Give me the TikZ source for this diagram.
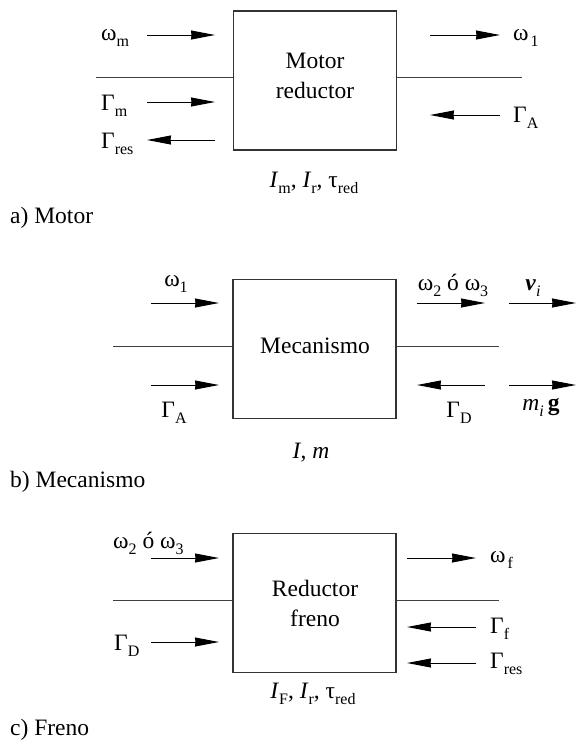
\documentclass[tikz,border=0pt]{standalone}
\usepackage{fontspec}
\setmainfont{Liberation Serif}
\usetikzlibrary{arrows.meta}
\newcommand\sbx[1]{\raisebox{-0.26em}{\fontsize{16}{16}\selectfont #1}}
\begin{document}
\begin{tikzpicture}[x=1pt,y=-1pt,
  every node/.style={inner sep=0pt, font=\fontsize{23.5}{30}\selectfont},
  blk/.style={draw=black!80, line width=1.2pt, minimum width=163pt, minimum height=139pt},
  shaft/.style={line width=1pt, draw=black!75},
  arr/.style={line width=1pt, -{Stealth[length=24pt,width=9pt,inset=0.5pt]}},
  lbl/.style={anchor=base west},
  lblc/.style={anchor=base},
  captxt/.style={anchor=base west, font=\fontsize{23.5}{28}\selectfont}
]
\useasboundingbox (0,0) rectangle (576,740);

% ---------- a) Motor ----------
\node[blk] (A) at (315,80.5) {};
\node[align=center] (At) at (315,76) {Motor\\reductor};
\coordinate (aL) at (96,77);
\coordinate (aR) at (522,77);
\draw[shaft] (aL) -- (aL -| A.west);
\draw[shaft] (A.east |- aR) -- (aR);

\node[lbl] (wm) at (101,40) {ω\sbx{m}};
\coordinate (a1s) at (147,35); \coordinate (a1e) at (215,35);
\draw[arr] (a1s) -- (a1e);
\node[lbl] (Gm) at (101,110) {Γ\sbx{m}};
\coordinate (a2s) at (147,102); \coordinate (a2e) at (215,102);
\draw[arr] (a2s) -- (a2e);
\node[lbl] (Gres) at (101,148) {Γ\sbx{res}};
\coordinate (a3s) at (215,140); \coordinate (a3e) at (147,140);
\draw[arr] (a3s) -- (a3e);

\node[lbl] (w1) at (513,40) {ω\kern2pt\sbx{1}};
\coordinate (a4s) at (430,35); \coordinate (a4e) at (500,35);
\draw[arr] (a4s) -- (a4e);
\node[lbl] (GA) at (513,122) {Γ\sbx{A}};
\coordinate (a5s) at (500,115); \coordinate (a5e) at (430,115);
\draw[arr] (a5s) -- (a5e);

\node[lblc] (Ai) at (314,187) {\textit{I}\sbx{m}, \textit{I}\sbx{r}, τ\sbx{red}};
\node[captxt] (capA) at (10,223) {a) Motor};

% ---------- b) Mecanismo ----------
\node[blk] (B) at (314.5,349) {};
\node[lblc] (Bt) at (315,353) {Mecanismo};
\coordinate (bL) at (113,346);
\coordinate (bR) at (499,346);
\draw[shaft] (bL) -- (bL -| B.west);
\draw[shaft] (B.east |- bR) -- (bR);

\node[lblc] (bw1) at (176,286) {ω\sbx{1}};
\coordinate (b1s) at (151,303); \coordinate (b1e) at (219,303);
\draw[arr] (b1s) -- (b1e);
\node[lblc] (bGA) at (174,417) {Γ\sbx{A}};
\coordinate (b2s) at (151,385); \coordinate (b2e) at (219,385);
\draw[arr] (b2s) -- (b2e);

\node[lblc] (bw23) at (453,290) {ω\sbx{2} ó ω\sbx{3}};
\coordinate (b3s) at (417,303); \coordinate (b3e) at (485,303);
\draw[arr] (b3s) -- (b3e);
\node[lblc] (bv) at (533,290) {\textbf{\textit{v}}\sbx{\textit{i}}};
\coordinate (b4s) at (509,303); \coordinate (b4e) at (576,303);
\draw[arr] (b4s) -- (b4e);
\node[lblc] (bGD) at (459,417) {Γ\sbx{D}};
\coordinate (b5s) at (485,385); \coordinate (b5e) at (417,385);
\draw[arr] (b5s) -- (b5e);
\node[lblc] (bmg) at (541,410) {\textit{m}\sbx{\textit{i}}\,\textbf{g}};
\coordinate (b6s) at (509,385); \coordinate (b6e) at (576,385);
\draw[arr] (b6s) -- (b6e);

\node[lblc] (Bi) at (311,458) {\textit{I}, \textit{m}};
\node[captxt] (capB) at (10,487) {b) Mecanismo};

% ---------- c) Freno ----------
\node[blk] (C) at (314.5,603) {};
\node[align=center] (Ct) at (315,603) {Reductor\\freno};
\coordinate (cL) at (113,600);
\coordinate (cR) at (499,600);
\draw[shaft] (cL) -- (cL -| C.west);
\draw[shaft] (C.east |- cR) -- (cR);

\node[lbl] (cw23) at (113,548) {ω\sbx{2} ó ω\sbx{3}};
\coordinate (c1s) at (151,558); \coordinate (c1e) at (219,558);
\draw[arr] (c1s) -- (c1e);
\node[lbl] (cGD) at (114,650) {Γ\sbx{D}};
\coordinate (c2s) at (151,642); \coordinate (c2e) at (219,642);
\draw[arr] (c2s) -- (c2e);

\node[lbl] (cwf) at (490,562) {ω\kern2pt\sbx{f}};
\coordinate (c3s) at (407,558); \coordinate (c3e) at (476,558);
\draw[arr] (c3s) -- (c3e);
\node[lbl] (cGf) at (490,633) {Γ\sbx{f}};
\coordinate (c4s) at (476,627); \coordinate (c4e) at (407,627);
\draw[arr] (c4s) -- (c4e);
\node[lbl] (cGres) at (490,668) {Γ\sbx{res}};
\coordinate (c5s) at (476,663); \coordinate (c5e) at (407,663);
\draw[arr] (c5s) -- (c5e);

\node[lblc] (Ci) at (313,698) {\textit{I}\sbx{F}, \textit{I}\sbx{r}, τ\sbx{red}};
\node[captxt] (capC) at (10,735) {c) Freno};
\end{tikzpicture}
\end{document}
